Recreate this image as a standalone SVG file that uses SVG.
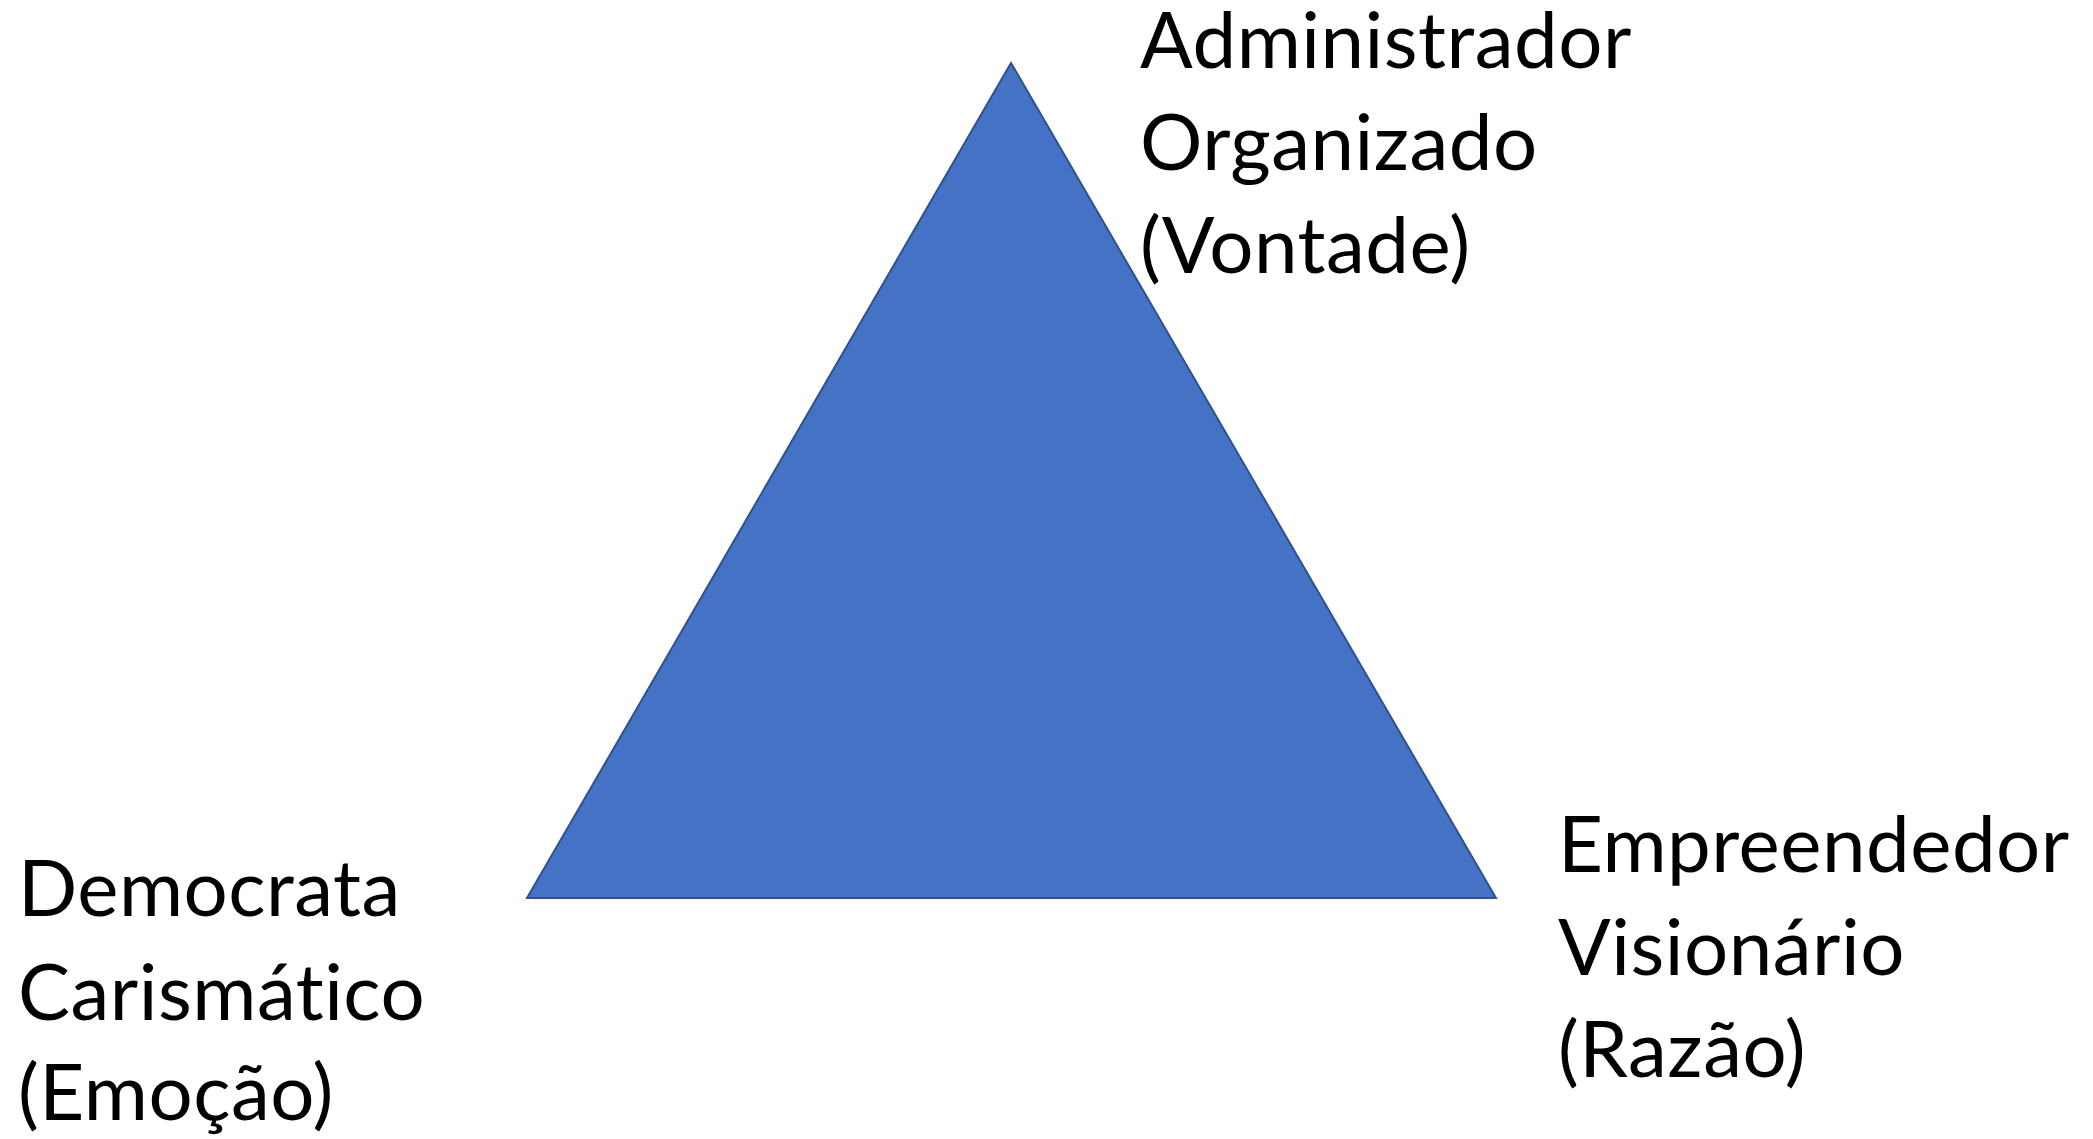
<svg xmlns="http://www.w3.org/2000/svg" width="2093" height="1139" viewBox="0 0 2093 1139">
<style>
.lbl{font-family:Lato,"Open Sans",sans-serif;font-size:78px;fill:#000;font-variant-ligatures:none;letter-spacing:0.5px}
</style>
<rect width="2093" height="1139" fill="#fff"/>
<g id="triangle">
<polygon points="1011,63 527,898 1496,898" fill="#4472C4" stroke="#2F528F" stroke-width="2" stroke-linejoin="miter"/>
</g>
<g id="connectors"></g>
<g id="top-label">
<text class="lbl" x="1140" y="68">Administrador</text>
<text class="lbl" x="1140" y="170">Organizado</text>
<text class="lbl" x="1140" y="273">(Vontade)</text>
</g>
<g id="left-label">
<text class="lbl" x="18" y="916">Democrata</text>
<text class="lbl" x="18" y="1020">Carismático</text>
<text class="lbl" x="18" y="1120">(Emoção)</text>
</g>
<g id="right-label">
<text class="lbl" x="1558" y="872">Empreendedor</text>
<text class="lbl" x="1558" y="975">Visionário</text>
<text class="lbl" x="1558" y="1077">(Razão)</text>
</g>
</svg>
